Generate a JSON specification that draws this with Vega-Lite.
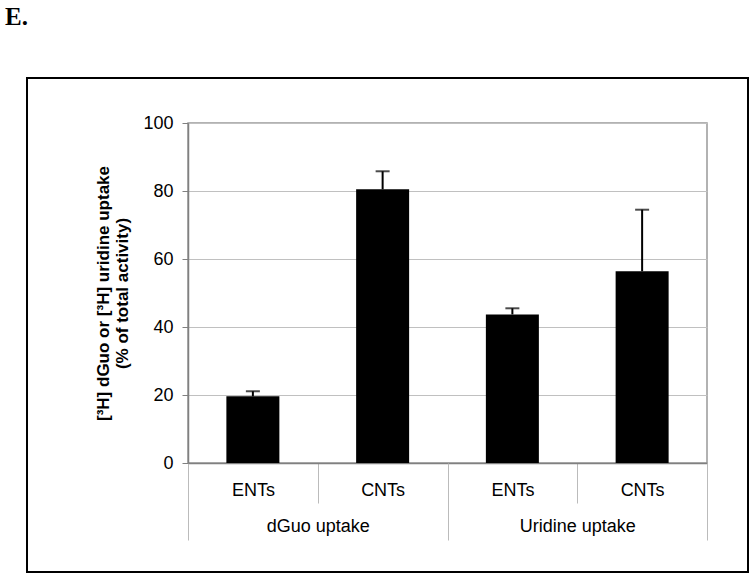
{
  "$schema": "https://vega.github.io/schema/vega-lite/v6.json",
  "width": 519,
  "height": 340,
  "autosize": {"type": "none"},
  "padding": {"left": 188, "top": 123, "right": 43, "bottom": 112},
  "background": "white",
  "config": {"view": {"stroke": "#999999", "strokeWidth": 1.5}, "font": "Liberation Sans"},
  "data": {"values": [
    {"group": "dGuo uptake", "transporter": "ENTs", "key": "dGuo ENTs", "uptake": 19.6, "upper": 21.1},
    {"group": "dGuo uptake", "transporter": "CNTs", "key": "dGuo CNTs", "uptake": 80.5, "upper": 85.8},
    {"group": "Uridine uptake", "transporter": "ENTs", "key": "Uridine ENTs", "uptake": 43.7, "upper": 45.5},
    {"group": "Uridine uptake", "transporter": "CNTs", "key": "Uridine CNTs", "uptake": 56.4, "upper": 74.5}
  ]},
  "resolve": {"scale": {"x": "independent", "y": "independent"}, "axis": {"x": "independent", "y": "independent"}},
  "layer": [
    {
      "encoding": {
        "x": {"field": "key", "type": "nominal", "sort": null,
          "scale": {"type": "band", "paddingInner": 0, "paddingOuter": 0},
          "axis": {"orient": "bottom", "title": null, "labelExpr": "split(datum.label, ' ')[1]", "labelAngle": 0,
            "tickBand": "extent", "tickSize": 40, "tickColor": "#bbbbbb", "tickWidth": 1,
            "domainColor": "#808080", "domainWidth": 1.5, "labelFontSize": 18, "labelColor": "black",
            "labelPadding": -22, "labelFont": "Liberation Sans"}}
      },
      "layer": [
        {"mark": {"type": "bar", "color": "black", "width": 53},
         "encoding": {"y": {"field": "uptake", "type": "quantitative", "scale": {"domain": [0, 100], "nice": false},
           "axis": {"title": ["[³H] dGuo or [³H] uridine uptake", "(% of total activity)"],
             "titleFontSize": 17, "titleFontWeight": "bold", "titleColor": "black", "titleLineHeight": 19,
             "titlePadding": 11, "values": [0, 20, 40, 60, 80, 100], "grid": true, "gridColor": "#c0c0c0",
             "gridWidth": 1.2, "domainColor": "#808080", "domainWidth": 1.5, "tickColor": "#808080",
             "tickSize": 6, "labelFontSize": 18, "labelColor": "black", "labelPadding": 9}}}},
        {"mark": {"type": "rule", "color": "black", "strokeWidth": 2},
         "encoding": {"y": {"field": "uptake", "type": "quantitative"}, "y2": {"field": "upper"}}},
        {"mark": {"type": "tick", "color": "black", "size": 14, "thickness": 2},
         "encoding": {"y": {"field": "upper", "type": "quantitative"}}}
      ]
    },
    {
      "mark": {"type": "point", "opacity": 0},
      "encoding": {
        "x": {"field": "group", "type": "nominal", "sort": null,
          "scale": {"type": "band", "paddingInner": 0, "paddingOuter": 0},
          "axis": {"orient": "bottom", "title": null, "labelAngle": 0, "tickBand": "extent", "tickSize": 77,
            "tickColor": "#bbbbbb", "tickWidth": 1, "domain": false, "labelFontSize": 18, "labelColor": "black",
            "labelPadding": -23, "labelFont": "Liberation Sans"}}
      }
    },
    {
      "data": {"values": [{}]},
      "layer": [
        {"mark": {"type": "rect", "fill": "transparent", "stroke": "black", "strokeWidth": 2},
         "encoding": {
           "x": {"datum": -0.3102, "type": "quantitative", "scale": {"domain": [0, 1], "nice": false, "zero": false}, "axis": null},
           "x2": {"datum": 1.079},
           "y": {"datum": -0.3206, "type": "quantitative", "scale": {"domain": [0, 1], "nice": false, "zero": false}, "axis": null},
           "y2": {"datum": 1.1324}}},
        {"mark": {"type": "text", "text": "E.", "font": "Liberation Serif", "fontWeight": "bold", "fontSize": 25, "align": "left", "baseline": "alphabetic", "color": "black"},
         "encoding": {
           "x": {"datum": -0.3526, "type": "quantitative", "scale": {"domain": [0, 1], "nice": false, "zero": false}, "axis": null},
           "y": {"datum": 1.288, "type": "quantitative", "scale": {"domain": [0, 1], "nice": false, "zero": false}, "axis": null}}}
      ]
    }
  ]
}
